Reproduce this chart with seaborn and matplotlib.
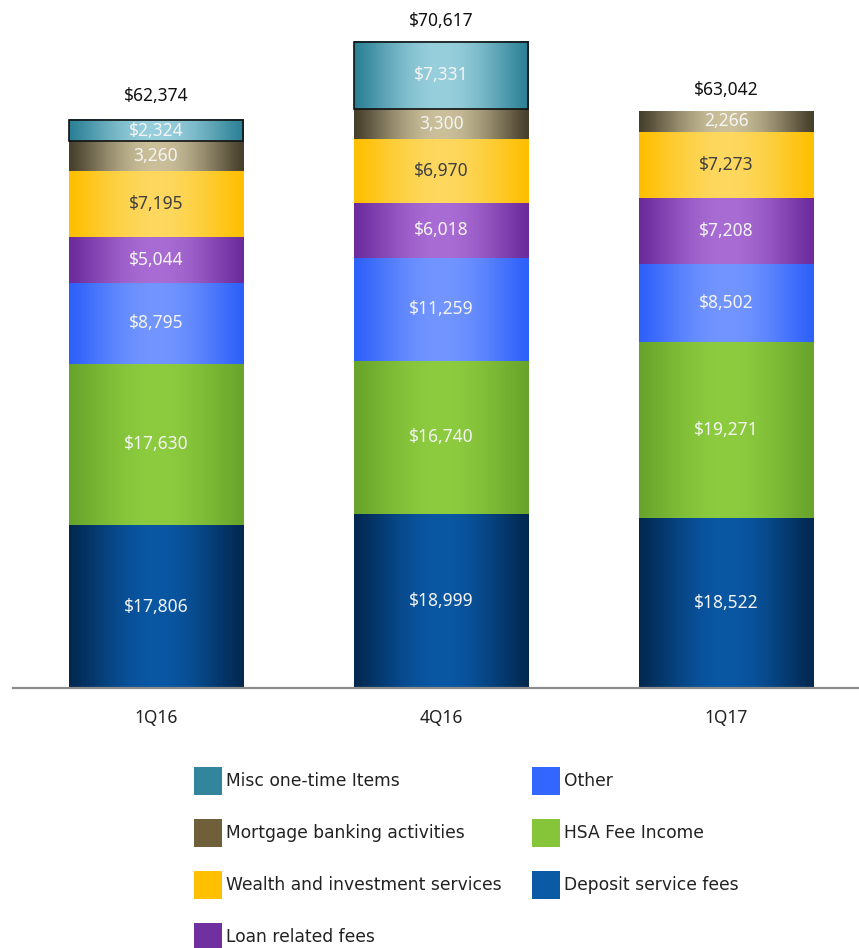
import numpy as np
import pandas as pd
import matplotlib
matplotlib.use("Agg")
import matplotlib.pyplot as plt
import seaborn as sns
from matplotlib.patches import Patch
from matplotlib.colors import to_rgb

# ---------------- data ----------------
quarters = ["1Q16", "4Q16", "1Q17"]
deposit = [17806, 18999, 18522]
hsa = [17630, 16740, 19271]
other = [8795, 11259, 8502]
loan = [5044, 6018, 7208]
wealth = [7195, 6970, 7273]
mortgage = [3260, 3300, 2266]
misc = [2324, 7331, 0]
totals = [62374, 70617, 63042]

series_names = ["Deposit service fees", "HSA Fee Income", "Other", "Loan related fees",
                "Wealth and investment services", "Mortgage banking activities",
                "Misc one-time Items"]
series_values = [deposit, hsa, other, loan, wealth, mortgage, misc]

# ---------------- styles ----------------
edge_cols = ["#022850", "#68a42b", "#2d60fa", "#6c2b9c", "#ffbf00", "#463f2c", "#2b8096"]
center_cols = ["#0a57a4", "#8dcc3f", "#7295ff", "#a96cd4", "#fdd85f", "#cbc09a", "#98cfdc"]
legend_cols = ["#0b5aa5", "#86c43a", "#3366ff", "#7030a0", "#ffc000", "#6f5f3a", "#31869b"]
label_cols = ["#f4f4f4", "#f4f4f4", "#f4f4f4", "#f4f4f4", "#404040", "#f4f4f4", "#f4f4f4"]
prefixes = ["$", "$", "$", "$", "$", "", "$"]
edge_lw = [0, 0, 0, 0, 0, 0, 1.2]

sns.set_theme(style="white")
plt.rcParams["font.family"] = ["Noto Sans", "DejaVu Sans"]

fig = plt.figure(figsize=(8.59, 9.48), dpi=100)
ax = fig.add_axes([13 / 859, 260 / 948, 846 / 859, 688 / 948])

bar_w = 0.61
N = 256
t = np.linspace(0, 1, N)
prof = np.sin(np.pi * t) ** 1.2

bottom = np.zeros(len(quarters))
for i, (name, vals) in enumerate(zip(series_names, series_values)):
    df = pd.DataFrame({"quarter": quarters, "value": vals})
    sns.barplot(data=df, x="quarter", y="value", order=quarters, color=legend_cols[i],
                width=bar_w, bottom=bottom.copy(), ax=ax, errorbar=None,
                edgecolor="#111111", linewidth=edge_lw[i], saturation=1)
    cont = ax.containers[-1]
    e = np.array(to_rgb(edge_cols[i]))
    c = np.array(to_rgb(center_cols[i]))
    grad = (e[None, :] * (1 - prof[:, None]) + c[None, :] * prof[:, None])[None, :, :]
    for p, v in zip(cont.patches, vals):
        x0, y0, w, h = p.get_x(), p.get_y(), p.get_width(), p.get_height()
        if h <= 0:
            p.set_visible(False)
            continue
        ax.imshow(grad, extent=[x0, x0 + w, y0, y0 + h], aspect="auto",
                  interpolation="bilinear", zorder=2)
        p.set_facecolor("none")
        p.set_zorder(3)
        ax.text(x0 + w / 2, y0 + h / 2, f"{prefixes[i]}{v:,}", ha="center", va="center",
                fontsize=12.5, color=label_cols[i], zorder=4)
    bottom = bottom + np.array(vals)

# totals
for j, tot in enumerate(totals):
    ax.annotate(f"${tot:,}", xy=(j, tot), xytext=(0, 15), textcoords="offset points",
                ha="center", va="center", fontsize=12.5, color="#111111")

ax.set_xlim(-0.5013, 2.4645)
ax.set_ylim(0, 75158)
ax.set_xlabel("")
ax.set_ylabel("")
ax.set_yticks([])
for s in ["top", "left", "right"]:
    ax.spines[s].set_visible(False)
ax.spines["bottom"].set_color("#8c8c8c")
ax.spines["bottom"].set_linewidth(1.6)
ax.tick_params(axis="x", length=0, pad=15, labelsize=12.5, labelcolor="#222222")
ax.set_facecolor("none")
ax.grid(False)

# legend
order = [6, 5, 4, 3, 2, 1, 0]
handles = [Patch(facecolor=legend_cols[k], edgecolor="none") for k in order]
labels = [series_names[k] for k in order]
fig.legend(handles, labels, loc="upper left", bbox_to_anchor=(194 / 859, 1 - 767 / 948),
           bbox_transform=fig.transFigure, ncol=2, frameon=False,
           prop={"family": "DejaVu Sans", "size": 12.3},
           handlelength=1.65, handleheight=2.14, handletextpad=0.2,
           labelspacing=1.4, columnspacing=1.8, borderpad=0, borderaxespad=0,
           labelcolor="#222222")

fig.savefig("out.png", dpi=100)
